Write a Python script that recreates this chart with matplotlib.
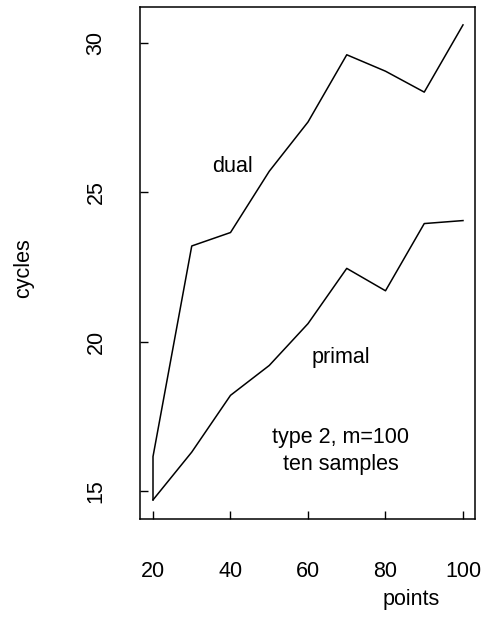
import matplotlib.pyplot as plt

# dados
points = [20, 30, 40, 50, 60, 70, 80, 90, 100]
primal = [14.7, 16.3, 18.2, 19.2, 20.6, 22.45, 21.7, 23.95, 24.05]
dual_points = [20, 20, 30, 40, 50, 60, 70, 80, 90, 100]
dual = [14.7, 16.15, 23.2, 23.65, 25.7, 27.35, 29.6, 29.05, 28.35, 30.6]

xticks = [20, 40, 60, 80, 100]
yticks = [15, 20, 25, 30]

plt.rcParams['font.family'] = ['Liberation Sans', 'DejaVu Sans']

fig = plt.figure(figsize=(4.85, 6.17), dpi=100)
ax = fig.add_axes([0.2887, 0.1588, 0.6907, 0.8299])

ax.plot(points, primal, color='black', lw=1.1)
ax.plot(dual_points, dual, color='black', lw=1.1)

ax.set_xlim(16.65, 103.1)
ax.set_ylim(14.06, 31.2)
ax.set_xticks(xticks)
ax.set_yticks(yticks)
ax.tick_params(direction='in', length=6, width=1, labelsize=15.5)
ax.tick_params(axis='x', pad=30)
ax.tick_params(axis='y', pad=24)
for lab in ax.get_yticklabels():
    lab.set_rotation(90)
    lab.set_va('center')

for s in ax.spines.values():
    s.set_linewidth(1.1)

ax.set_xlabel('points', fontsize=15.5)
ax.xaxis.set_label_coords(0.81, -0.137)
ax.set_ylabel('cycles', fontsize=15.5)
ax.yaxis.set_label_coords(-0.315, 0.49)

ax.text(40.5, 25.85, 'dual', fontsize=15.5, ha='center', va='center')
ax.text(68.5, 19.45, 'primal', fontsize=15.5, ha='center', va='center')
ax.text(68.5, 16.33, 'type 2, m=100\nten samples', fontsize=15.5, ha='center',
        va='center', linespacing=1.4)

fig.savefig('out.png', dpi=100)
